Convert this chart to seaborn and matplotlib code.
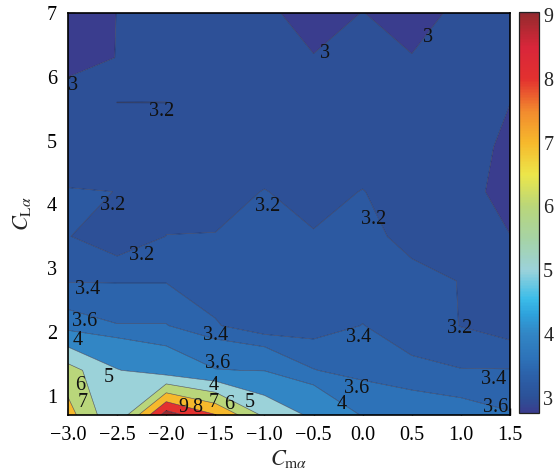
import numpy as np
import matplotlib
matplotlib.use("Agg")
import matplotlib.pyplot as plt
import seaborn as sns
from matplotlib.colors import LinearSegmentedColormap, Normalize
from matplotlib.cm import ScalarMappable

# ---------------- data ----------------
x_vals = [-3.0, -2.5, -2.0, -1.5, -1.0, -0.5, 0.0, 0.5, 1.0, 1.5]
y_vals = [0.7, 1.4, 2.1, 2.8, 3.5, 4.2, 4.9, 5.6, 6.3, 7.0]

z_y07 = [7.40, 5.07, 9.50, 8.05, 5.80, 4.80, 3.95, 3.79, 3.72, 3.62]
z_y14 = [6.40, 5.05, 4.47, 4.02, 3.98, 3.61, 3.50, 3.45, 3.41, 3.41]
z_y21 = [3.72, 3.61, 3.61, 3.42, 3.26, 3.31, 3.405, 3.30, 3.195, 3.10]
z_y28 = [3.39, 3.39, 3.39, 3.30, 3.28, 3.28, 3.30, 3.25, 3.195, 3.10]
z_y35 = [3.21, 3.05, 3.202, 3.205, 3.30, 3.21, 3.25, 3.15, 3.10, 3.005]
z_y42 = [3.21, 3.199, 3.15, 3.15, 3.205, 3.15, 3.205, 3.12, 3.10, 2.90]
z_y49 = [3.10, 3.10, 3.12, 3.12, 3.12, 3.10, 3.12, 3.10, 3.10, 2.95]
z_y56 = [3.13, 3.201, 3.201, 3.12, 3.10, 3.08, 3.08, 3.08, 3.05, 3.002]
z_y63 = [2.90, 3.005, 3.10, 3.12, 3.10, 3.01, 3.10, 3.01, 3.10, 3.12]
z_y70 = [2.78, 3.005, 3.10, 3.10, 3.05, 2.90, 3.005, 2.90, 3.056, 3.10]

contour_levels = [3.0, 3.2, 3.4, 3.6, 4.0, 5.0, 6.0, 7.0, 8.0, 9.0]
cbar_ticks = [3, 4, 5, 6, 7, 8, 9]
c_min, c_max = 2.76, 9.05

# colormap anchors (value, colour)
cmap_values = [2.76, 3.0, 3.2, 3.4, 3.6, 4.0, 4.3, 4.55, 5.0, 5.5, 6.0, 6.5, 7.0, 7.5, 8.0, 8.5, 9.0, 9.05]
cmap_colors = ['#3a3d8e', '#2c5298', '#2c5aa2', '#2c64ac', '#2d72b8', '#3286c5', '#2ea2dc',
               '#3cbde9', '#9bd2da', '#a6d3a4', '#b9d67a', '#ece64a', '#f6b92c', '#f28a2e',
               '#e3312f', '#d9263a', '#9a2a2e', '#8c2833']

# label positions (level, x, y)
label_levels = [3, 3.2, 3.2, 3.2, 3, 3, 3.2, 3.2, 3.4, 3.6, 4, 3.4, 3.6, 4, 5, 6, 7,
                9, 8, 7, 6, 5, 3.4, 3.2, 3.6, 4, 3.4, 3.6]
label_x = [-2.95, -2.05, -2.55, -0.97, -0.38, 0.67, 0.11, -2.25, -2.8, -2.83, -2.9, -1.5,
           -1.48, -1.52, -2.59, -2.88, -2.85, -1.83, -1.68, -1.52, -1.36, -1.15, -0.04,
           0.99, -0.06, -0.21, 1.33, 1.35]
label_y = [5.87, 5.45, 3.99, 3.96, 6.37, 6.62, 3.76, 3.2, 2.66, 2.17, 1.87, 1.94, 1.51,
           1.17, 1.29, 1.17, 0.89, 0.81, 0.82, 0.9, 0.86, 0.9, 1.92, 2.06, 1.12, 0.86,
           1.26, 0.82]

# ---------------- style ----------------
sns.set_theme(style="ticks")
plt.rcParams['font.family'] = ['Liberation Serif', 'DejaVu Serif']
plt.rcParams['mathtext.fontset'] = 'stix'
plt.rcParams['axes.unicode_minus'] = True

W, H = 559, 471
fig = plt.figure(figsize=(W / 100, H / 100), dpi=100)
fig.patch.set_facecolor('white')
ax = fig.add_axes([68 / W, 1 - 415 / H, (510 - 68) / W, (415 - 13) / H])
cax = fig.add_axes([519 / W, 1 - 413 / H, 20 / W, (413 - 12) / H])

pos = [(v - c_min) / (c_max - c_min) for v in cmap_values]
cmap = LinearSegmentedColormap.from_list('ref', list(zip(pos, cmap_colors)))
norm = Normalize(vmin=c_min, vmax=c_max)

X, Y = np.meshgrid(x_vals, y_vals)
Z = np.array([z_y07, z_y14, z_y21, z_y28, z_y35, z_y42, z_y49, z_y56, z_y63, z_y70])

fill_levels = [c_min] + contour_levels + [max(Z.max(), c_max) + 0.01]
band_colors = [cmap(norm(l)) for l in fill_levels[:-1]]
ax.contourf(X, Y, Z, levels=fill_levels, colors=band_colors, antialiased=True)
cs = ax.contour(X, Y, Z, levels=contour_levels, colors='#1e1e3c', linewidths=0.45, alpha=0.7)

# contour labels: one invisible single-level contour set per labelled level
for lv in sorted(set(label_levels)):
    pts = [(lx, ly) for l, lx, ly in zip(label_levels, label_x, label_y) if l == lv]
    cs_l = ax.contour(X, Y, Z, levels=[lv], colors='k', linewidths=0)
    ax.clabel(cs_l, manual=pts, inline=False, fontsize=14.5, colors='#111111',
              fmt=lambda v: f"{v:g}")
    for t, (lx, ly) in zip(cs_l.labelTexts, pts):
        t.set_position((lx, ly))
        t.set_rotation(0)

ax.set_xlim(-3.0, 1.5)
ax.set_ylim(0.7, 7.0)
ax.set_xticks([-3.0, -2.5, -2.0, -1.5, -1.0, -0.5, 0.0, 0.5, 1.0, 1.5])
ax.set_yticks([1, 2, 3, 4, 5, 6, 7])
ax.tick_params(direction='in', length=5, width=1, labelsize=14.5, top=False, right=False,
               colors='black')
ax.tick_params(axis='x', pad=8)
ax.tick_params(axis='y', pad=8)
for s in ax.spines.values():
    s.set_linewidth(1.2)
    s.set_color('black')
ax.set_xlabel(r'$C_{\mathrm{m}\alpha}$', fontsize=16, labelpad=2)
ax.set_ylabel(r'$C_{\mathrm{L}\alpha}$', fontsize=16, labelpad=10)

sm = ScalarMappable(norm=norm, cmap=cmap)
cb = fig.colorbar(sm, cax=cax, ticks=cbar_ticks)
cax.tick_params(direction='in', length=5, width=1.2, labelsize=14.5, right=True, pad=3)
cb.outline.set_edgecolor('#222222')
cb.outline.set_linewidth(0.9)

fig.savefig('out.png', dpi=100, facecolor='white')
